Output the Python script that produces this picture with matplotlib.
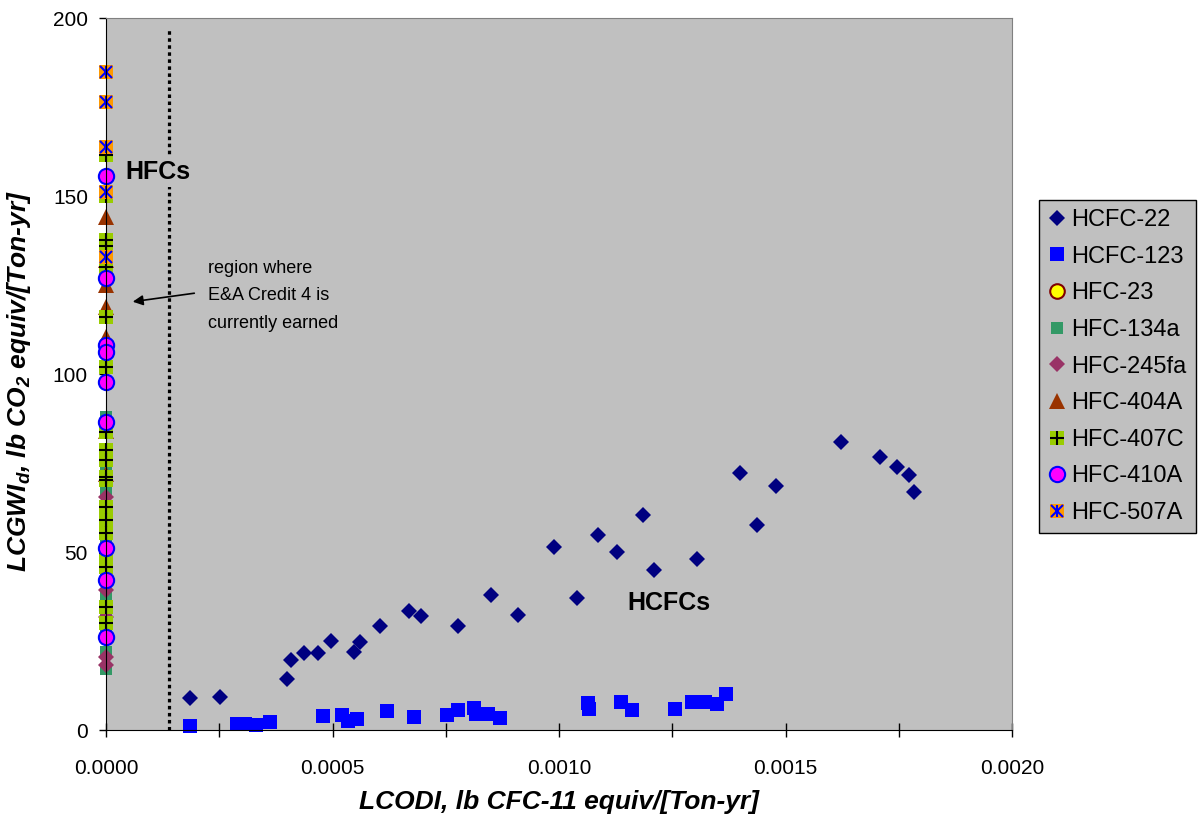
import matplotlib
matplotlib.use("Agg")
import matplotlib.pyplot as plt
from matplotlib.ticker import MultipleLocator, FormatStrFormatter

plt.rcParams["font.family"] = ["Liberation Sans", "DejaVu Sans"]
plt.rcParams["mathtext.fontset"] = "custom"
plt.rcParams["mathtext.rm"] = "Liberation Sans:bold:italic"
plt.rcParams["mathtext.it"] = "Liberation Sans:bold:italic"

# HCFCs (ODP > 0)
hcfc22_odp = [0.000186, 0.000252, 0.000399, 0.000408, 0.000438, 0.000467, 0.000497, 0.000548,
              0.000561, 0.000604, 0.000668, 0.000695, 0.000778, 0.000849, 0.000909, 0.000989,
              0.001040, 0.001085, 0.001129, 0.001185, 0.001210, 0.001305, 0.001399, 0.001438,
              0.001478, 0.001623, 0.001709, 0.001747, 0.001773, 0.001783]
hcfc22_gwi = [9.0, 9.2, 14.2, 19.7, 21.5, 21.5, 25.0, 21.8,
              24.6, 29.1, 33.4, 32.1, 29.1, 37.8, 32.4, 51.4,
              37.2, 54.9, 50.0, 60.3, 44.9, 47.9, 72.1, 57.7,
              68.5, 81.0, 76.7, 74.0, 71.5, 66.9]

hcfc123_odp = [0.000186, 0.000289, 0.000307, 0.000331, 0.000361, 0.000480, 0.000520, 0.000535,
               0.000555, 0.000620, 0.000681, 0.000753, 0.000776, 0.000812, 0.000816, 0.000844,
               0.000870, 0.001065, 0.001067, 0.001136, 0.001161, 0.001255, 0.001294, 0.001322,
               0.001348, 0.001368]
hcfc123_gwi = [1.2, 1.6, 1.6, 1.3, 2.3, 3.8, 4.1, 2.5,
               3.1, 5.3, 3.7, 4.3, 5.5, 6.3, 4.5, 4.5,
               3.5, 7.5, 5.9, 7.9, 5.6, 5.9, 7.9, 7.8,
               7.2, 10.2]

# HFCs (ODP = 0)
hfc23_gwi = [2400.0]  # off scale
hfc134a_gwi = [88, 84, 79, 74, 67, 60, 52, 44, 38, 32, 27, 22, 17]
hfc245fa_gwi = [65.5, 39.3, 31.8, 20.6, 18.3]
hfc404a_gwi = [144.2, 132.0, 125.0, 118.9, 110.5, 84.0, 72.0]
hfc407c_gwi = [161.5, 150.0, 137.5, 136.0, 130.0, 116.0, 102.0, 83.8, 78.7, 75.8, 71.2, 70.2,
               62.7, 59.0, 55.2, 49.6, 45.9, 34.6, 30.0]
hfc410a_gwi = [155.5, 127.1, 108.1, 106.3, 97.8, 86.5, 51.0, 42.0, 26.0]
hfc507a_gwi = [184.7, 176.3, 163.8, 151.2, 133.0]

fig = plt.figure(figsize=(12.02, 8.21), dpi=100)
ax = fig.add_axes([106 / 1202, 91 / 821, 906 / 1202, 712 / 821])
ax.set_facecolor("#c0c0c0")


def zeros(vals):
    return [0.0] * len(vals)


h22, = ax.plot(hcfc22_odp, hcfc22_gwi, "D", color="#000080", ms=8, mew=0, clip_on=False)
h123, = ax.plot(hcfc123_odp, hcfc123_gwi, "s", color="#0000ff", ms=10, mew=0, clip_on=False)
h23, = ax.plot(zeros(hfc23_gwi), hfc23_gwi, "o", mfc="#ffff00", mec="#800000", ms=10.5, mew=1.5)
h134, = ax.plot(zeros(hfc134a_gwi), hfc134a_gwi, "s", color="#339966", ms=8, mew=0, clip_on=False)
h245, = ax.plot(zeros(hfc245fa_gwi), hfc245fa_gwi, "D", color="#993366", ms=8.5, mew=0, clip_on=False)
h404, = ax.plot(zeros(hfc404a_gwi), hfc404a_gwi, "^", color="#993300", ms=12, mew=0, clip_on=False)
h407a, = ax.plot(zeros(hfc407c_gwi), hfc407c_gwi, "s", color="#99cc00", ms=9.5, mew=0, clip_on=False)
h407b, = ax.plot(zeros(hfc407c_gwi), hfc407c_gwi, "+", color="black", ms=9.5, mew=1.5, clip_on=False)
h410, = ax.plot(zeros(hfc410a_gwi), hfc410a_gwi, "o", mfc="#ff00ff", mec="#0000ff", ms=11, mew=1.5, clip_on=False)
h507a, = ax.plot(zeros(hfc507a_gwi), hfc507a_gwi, "s", color="#ff9900", ms=9.5, mew=0, clip_on=False)
h507b, = ax.plot(zeros(hfc507a_gwi), hfc507a_gwi, "x", color="#0000ff", ms=9, mew=1.5, clip_on=False)
h507c, = ax.plot(zeros(hfc507a_gwi), hfc507a_gwi, "|", color="#0000ff", ms=9, mew=1.5, clip_on=False)

# dotted boundary line
ax.plot([0.00014, 0.00014], [0, 196.5], color="black", lw=2.3, dashes=(1.1, 1.1), zorder=1)

ax.set_xlim(0, 0.002)
ax.set_ylim(0, 200)
ax.xaxis.set_major_locator(MultipleLocator(0.0005))
ax.xaxis.set_minor_locator(MultipleLocator(0.00025))
ax.xaxis.set_major_formatter(FormatStrFormatter("%.4f"))
ax.yaxis.set_major_locator(MultipleLocator(50))
ax.tick_params(axis="x", which="both", direction="inout", length=10, width=1, labelsize=15, pad=16)
ax.tick_params(axis="y", which="both", direction="out", length=5, width=1, labelsize=15, pad=8)

for s in ["top", "right"]:
    ax.spines[s].set_color("#808080")
for s in ["left", "bottom"]:
    ax.spines[s].set_color("black")

ax.set_xlabel("LCODI, lb CFC-11 equiv/[Ton-yr]", fontsize=19, fontweight="bold", fontstyle="italic")
ax.xaxis.set_label_coords(0.5, -0.084)
ax.set_ylabel(r"LCGWI$_\mathrm{d}$, lb CO$_\mathrm{2}$ equiv/[Ton-yr]", fontsize=19,
              fontweight="bold", fontstyle="italic")
ax.yaxis.set_label_coords(-0.081, 0.49)

ax.text(0.000042, 156.8, "HFCs", fontsize=18, fontweight="bold", ha="left", va="center",
        bbox=dict(facecolor="#c0c0c0", edgecolor="none", pad=2), zorder=5)
ax.text(0.001152, 35.7, "HCFCs", fontsize=18, fontweight="bold", ha="left", va="center")
ax.text(0.000225, 132.0, "region where\nE&A Credit 4 is\ncurrently earned", fontsize=13,
        ha="left", va="top", linespacing=1.8)
ax.annotate("", xy=(0.000053, 120.2), xytext=(0.000201, 122.8),
            arrowprops=dict(arrowstyle="-|>", color="black", lw=1.2, mutation_scale=15))

handles = [h22, h123, h23, h134, h245, h404, (h407a, h407b), h410, (h507a, h507b, h507c)]
labels = ["HCFC-22", "HCFC-123", "HFC-23", "HFC-134a", "HFC-245fa", "HFC-404A", "HFC-407C",
          "HFC-410A", "HFC-507A"]
leg = fig.legend(handles, labels, loc="upper left", bbox_to_anchor=(1039 / 1202, 1 - 200 / 821),
                 fontsize=17, frameon=True, fancybox=False, framealpha=1, edgecolor="black",
                 facecolor="#c0c0c0", borderpad=0.38, handlelength=0.8, handletextpad=0.2,
                 labelspacing=0.62, borderaxespad=0)
leg.get_frame().set_linewidth(1)

fig.savefig("out.png", dpi=100)
